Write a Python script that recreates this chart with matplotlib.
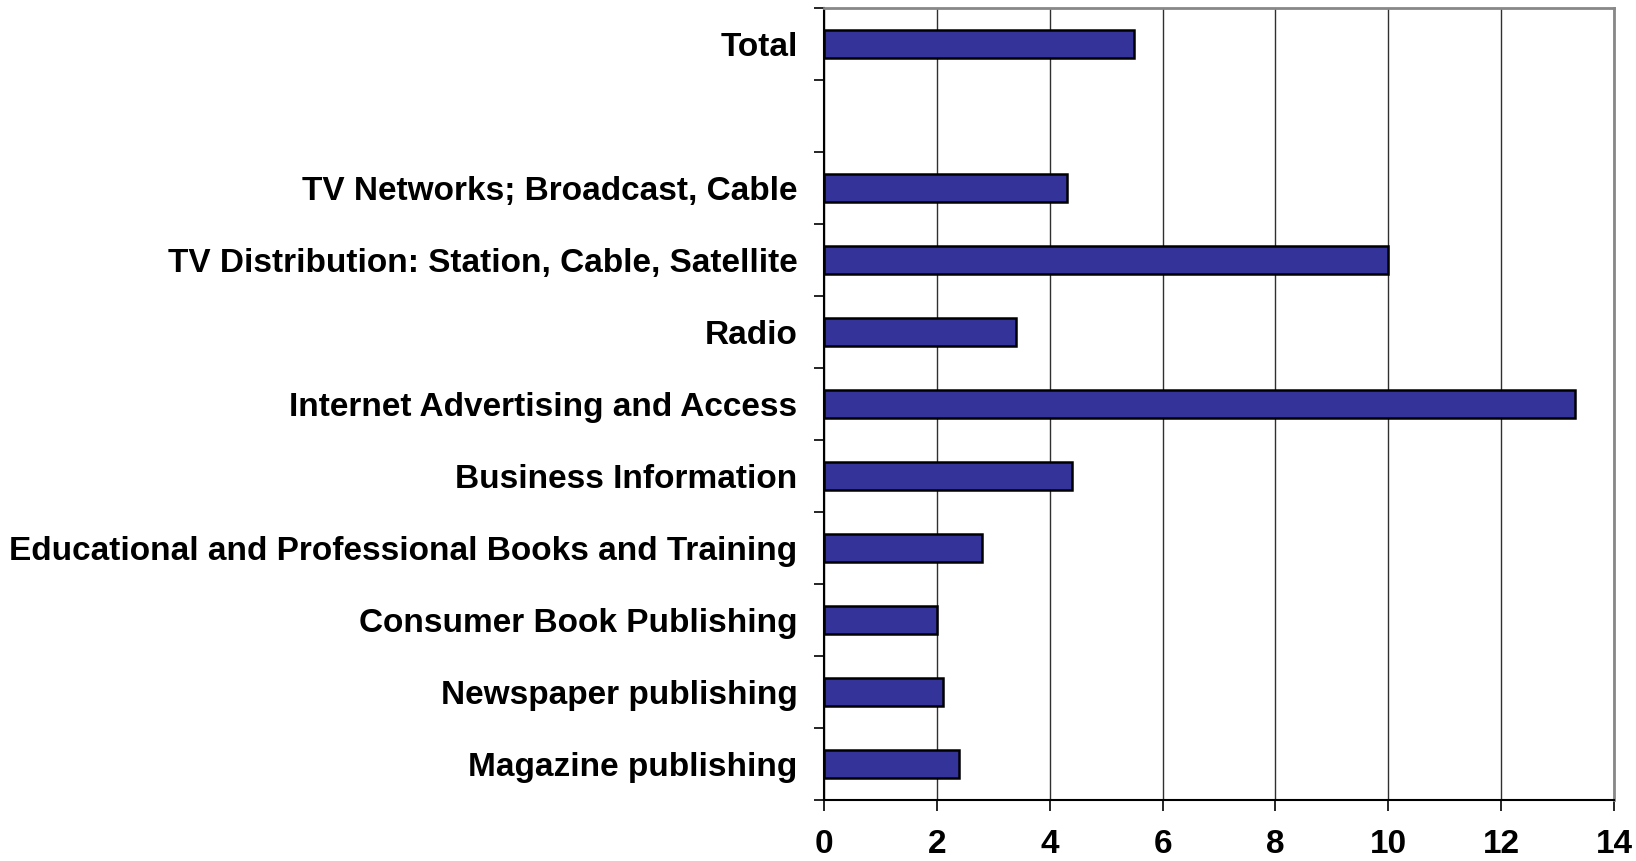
import matplotlib
matplotlib.use("Agg")
import matplotlib.pyplot as plt
import numpy as np

categories = [
    "Total",
    "",
    "TV Networks; Broadcast, Cable",
    "TV Distribution: Station, Cable, Satellite",
    "Radio",
    "Internet Advertising and Access",
    "Business Information",
    "Educational and Professional Books and Training",
    "Consumer Book Publishing",
    "Newspaper publishing",
    "Magazine publishing",
]
values = [5.5, np.nan, 4.3, 10.0, 3.4, 13.3, 4.4, 2.8, 2.0, 2.1, 2.4]
xticks = [0, 2, 4, 6, 8, 10, 12, 14]

fig = plt.figure(figsize=(16.36, 8.61), dpi=100)
ax = fig.add_axes([824 / 1636, 1 - 800 / 861, (1614 - 824) / 1636, (800 - 8) / 861])

n = len(categories)
ypos = np.arange(n)
vals = np.array(values, dtype=float)
mask = ~np.isnan(vals)
ax.barh(ypos[mask], vals[mask], height=0.4, color="#333399",
        edgecolor="black", linewidth=1.8, zorder=3)

ax.set_ylim(n - 0.5, -0.5)
ax.set_xlim(0, 14)

# category boundary ticks
ax.set_yticks(np.arange(n + 1) - 0.5)
ax.set_yticklabels([])
ax.tick_params(axis="y", which="major", direction="out", length=7, width=1.2, color="black")
ax.set_yticks(ypos, minor=True)
ax.set_yticklabels(categories, minor=True, fontsize=24, fontweight="bold",
                   family=["Liberation Sans", "DejaVu Sans"])
ax.tick_params(axis="y", which="minor", length=0, pad=19)

ax.set_xticks(xticks)
ax.set_xticklabels([str(t) for t in xticks], fontsize=24, fontweight="bold",
                   family=["Liberation Sans", "DejaVu Sans"])
ax.tick_params(axis="x", direction="out", length=8, width=1.2, pad=13)

ax.grid(axis="x", color="#303030", linewidth=1.0, zorder=0)
ax.set_axisbelow(True)

for side in ["top", "right"]:
    ax.spines[side].set_color("#888888")
    ax.spines[side].set_linewidth(2.0)
for side in ["left", "bottom"]:
    ax.spines[side].set_color("black")
    ax.spines[side].set_linewidth(1.5)

fig.savefig("out.png", dpi=100)
